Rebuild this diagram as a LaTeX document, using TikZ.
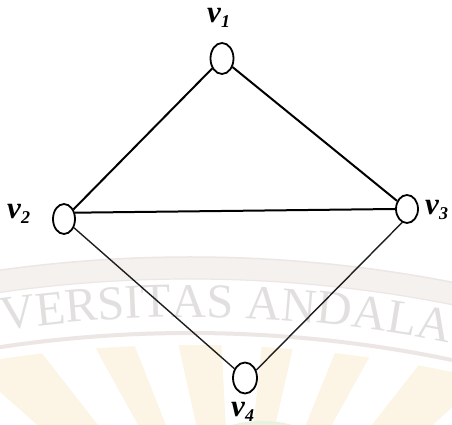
\documentclass[tikz,border=0pt]{standalone}
\usepackage{fontspec}
\setmainfont{Liberation Serif}
\usetikzlibrary{shapes.geometric,decorations.text}
\definecolor{wmtext}{HTML}{E2DFDF}
\definecolor{wmring}{HTML}{F5F1EF}
\definecolor{wmline}{HTML}{ECE6E4}
\definecolor{wmcream}{HTML}{FCF4E4}
\definecolor{wmgreen}{HTML}{E6F4DF}
\definecolor{edgegrey}{HTML}{1E1E1E}
\newcommand{\wmfont}{\fontsize{48.5}{48.5}\selectfont}
\newcommand{\vlab}[1]{\textbf{\textit{v}}\raisebox{-4.5pt}{\fontsize{18}{18}\selectfont\bfseries\itshape #1}}
\begin{document}
\begin{tikzpicture}[x=1pt,y=1pt,
  vertex/.style={ellipse, draw=black, line width=1.8pt, fill=white, inner sep=0pt},
  vlabel/.style={font=\fontsize{31}{31}\selectfont, inner sep=0pt, anchor=base west},
  edge/.style={line width=2pt, black},
  thinedge/.style={line width=1.4pt, edgegrey}]
\useasboundingbox (0,0) rectangle (452,425);
% ---- faint watermark in the background ----
\begin{scope}
\clip (0,0) rectangle (452,425);
\fill[wmcream] (190,-1192) circle (1272);
\foreach \a in {143,123.5,107,88.5,72.5,56.5,37} {
  \fill[white] (235,-175) -- ++(\a-4.5:800) -- ++(\a+94.5:{2*800*sin(4.5)}) -- cycle;
}
\fill[wmgreen] (262,-8) ellipse (40 and 12);
\draw[wmline, line width=4pt] (190,-1192) ++(100:1284) arc[start angle=100, end angle=75, radius=1284];
\fill[wmring, even odd rule] (190,-1192) circle (1360) (190,-1192) circle (1338);
\draw[wmline, line width=1.5pt] (190,-1192) circle (1360);
\draw[wmline, line width=1.2pt] (190,-1192) circle (1338);
\path[decorate, decoration={text along path, text={|\wmfont|VERSITAS ANDALA}, text color=wmtext, text align=left}]
  (190,-1192) ++(98.3:1300) arc[start angle=98.3, end angle=75, radius=1300];
\end{scope}
% ---- graph ----
\node[vertex, minimum width=23pt, minimum height=31pt] (v1) at (222,366.5) {};
\node[vertex, minimum width=22pt, minimum height=30pt] (v2) at (64,206) {};
\node[vertex, minimum width=22pt, minimum height=28pt] (v3) at (407,216) {};
\node[vertex, minimum width=24pt, minimum height=31pt] (v4) at (245,47) {};
\draw[edge] (v1) -- (v2);
\draw[edge] (v1) -- (v3);
\draw[edge] (v2.30) -- (v3.west);
\draw[thinedge] (v2) -- (v4);
\draw[thinedge] (v3.250) -- (v4.35);
\node[vlabel] (l1) at (207,402) {\vlab{1}};
\node[vlabel] (l2) at (7,206) {\vlab{2}};
\node[vlabel] (l3) at (425,210) {\vlab{3}};
\node[vlabel] (l4) at (231,8) {\vlab{4}};
\end{tikzpicture}
\end{document}
